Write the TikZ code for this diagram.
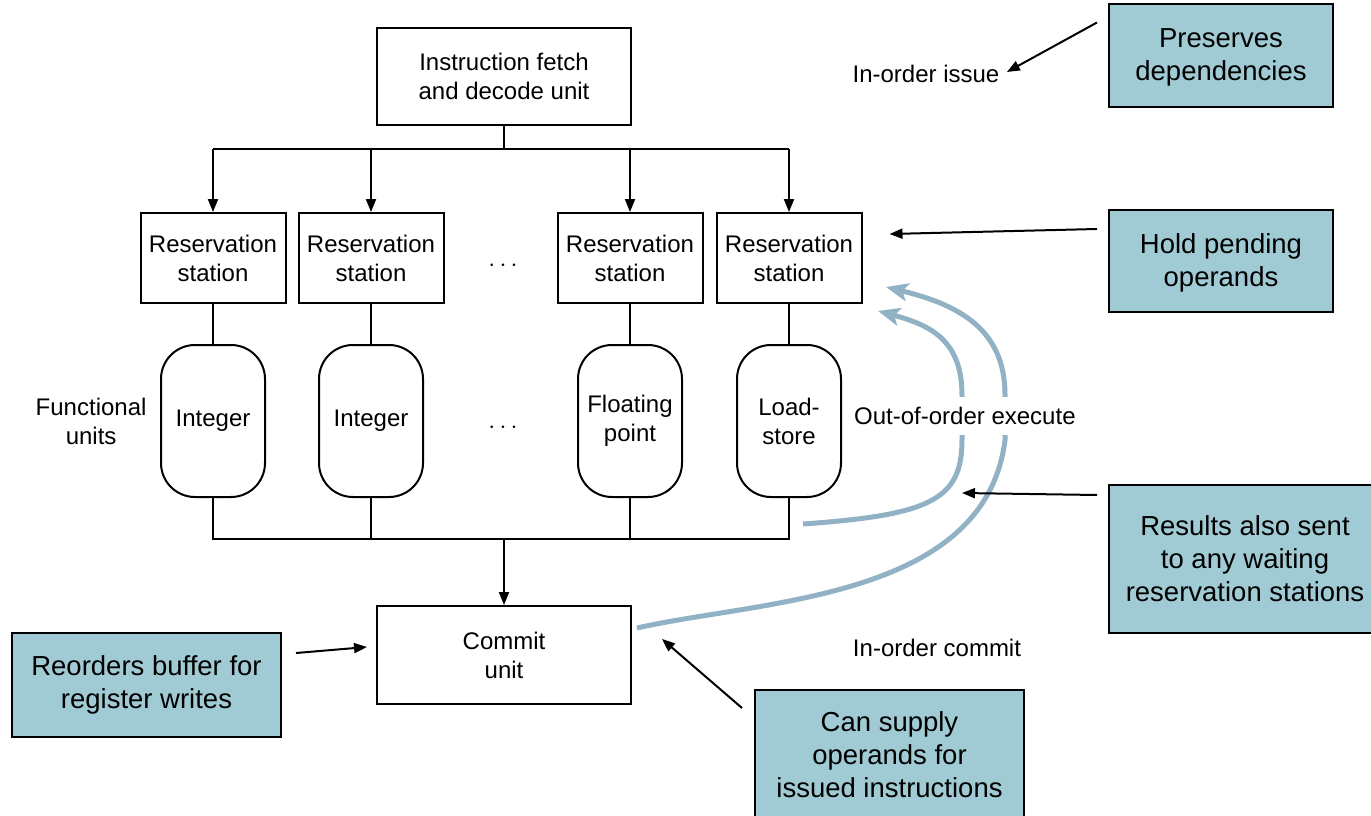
\documentclass[tikz,border=0pt]{standalone}
\usepackage{fontspec}
\setmainfont{Liberation Sans}
\usetikzlibrary{arrows.meta, positioning}
\definecolor{notefill}{RGB}{161,203,212}
\definecolor{flow}{RGB}{145,178,196}
\tikzset{box/.style={rectangle,draw,line width=2pt,align=center,inner sep=0pt,font=\fontsize{24}{29}\selectfont},
rsbox/.style={box,minimum width=145pt,minimum height=90pt},
unit/.style={box,rounded corners=34pt,minimum width=104pt,minimum height=152pt},
note/.style={rectangle,draw,line width=2pt,fill=notefill,align=center,inner sep=0pt,font=\fontsize{27.5}{33}\selectfont},
txt/.style={align=center,font=\fontsize{24}{29}\selectfont},
line/.style={line width=2pt,-{Triangle[length=13pt,width=10pt]}},
feed/.style={line width=5pt,flow,-{Stealth[length=22pt,width=18pt,inset=5pt]}}}

\begin{document}
\begin{tikzpicture}[x=1pt,y=-1pt]
\clip (0,0) rectangle (1371,816);
\node[box,minimum width=254pt,minimum height=97pt] (f) at (504,76.5) {Instruction fetch\\and decode unit};
\node[rsbox] (r1) at (213,258) {Reservation\\station};
\node[rsbox] (r2) at (371,258) {Reservation\\station};
\node[rsbox] (r3) at (630,258) {Reservation\\station};
\node[rsbox] (r4) at (789,258) {Reservation\\station};
\node[unit] (u1) at (213,421) {Integer};
\node[unit] (u2) at (371,421) {Integer};
\node[unit] (u3) at (630,421) {Floating\\point};
\node[unit] (u4) at (789,421) {Load-\\store};
\node[txt] (d1) at (503,266) {$\cdots$};
\node[txt] (d2) at (503,428) {$\cdots$};
\node[txt, left=10pt of u1] (fu) {Functional\\units};
\node[box,minimum width=254pt,minimum height=98pt] (c) at (504,655) {Commit\\unit};
\coordinate (t) at (504,149);
\coordinate (b) at (504,539);
\draw[line width=2pt] (f.south) -- (t);
\draw[line width=2pt] (r1.north |- t) -- (r4.north |- t);
\foreach \n in {1,...,4} \draw[line] (r\n.north |- t) -- (r\n.north);
\foreach \n in {1,...,4} \draw[line width=2pt] (r\n.south) -- (u\n.north);
\draw[line width=2pt] (u1.south) -- (u1.south |- b) -- (u4.south |- b) -- (u4.south);
\foreach \n in {2,3} \draw[line width=2pt] (u\n.south) -- (u\n.south |- b);
\draw[line] (b) -- (c.north);
% results fed back to the stations
\coordinate (s1) at (803,524);
\coordinate (s2) at (637,628);
\draw[feed] (s1) .. controls (930,515) and (962,500) .. (962,440) -- (962,395) .. controls (962,340) and (930,325) .. (878,311);
\draw[feed] (s2) .. controls (760,600) and (985,600) .. (1005,440) -- (1005,395) .. controls (1005,330) and (960,305) .. (886,287);
\node[txt, fill=white, inner xsep=4pt, inner ysep=10pt, right=8pt of u4, yshift=5pt] (ex) {Out-of-order execute};
\node[txt] (is) at (926,74) {In-order issue};
\node[txt] (ic) at (937,648) {In-order commit};
% notes
\node[note,minimum width=224pt,minimum height=103pt,text depth=2pt] (p) at (1221,55.5) {Preserves\\dependencies};
\node[note,minimum width=224pt,minimum height=102pt,text depth=2pt] (h) at (1221,261) {Hold pending\\operands};
\node[note,minimum width=272pt,minimum height=148pt] (r) at (1245,559) {Results also sent\\to any waiting\\reservation stations};
\node[note,minimum width=269pt,minimum height=104pt] (o) at (146.5,685) {Reorders buffer for\\register writes};
\node[note,minimum width=269pt,minimum height=130pt] (s) at (889.5,755) {Can supply\\operands for\\issued instructions};
\coordinate (rt) at (962,493);
\draw[line] ([xshift=-11pt,yshift=33pt]p.west) -- ([xshift=4pt,yshift=2pt]is.east);
\draw[line] ([xshift=-11pt,yshift=32pt]h.west) -- ([xshift=27pt,yshift=24pt]r4.east);
\draw[line] ([xshift=-11pt,yshift=64pt]r.west) -- (rt);
\draw[line] ([xshift=14pt,yshift=32pt]o.east) -- ([xshift=-9pt,yshift=8pt]c.west);
\draw[line] ([xshift=-12pt,yshift=-19pt]s.north west) -- ([xshift=30pt,yshift=16pt]c.east);
\end{tikzpicture}
\end{document}
